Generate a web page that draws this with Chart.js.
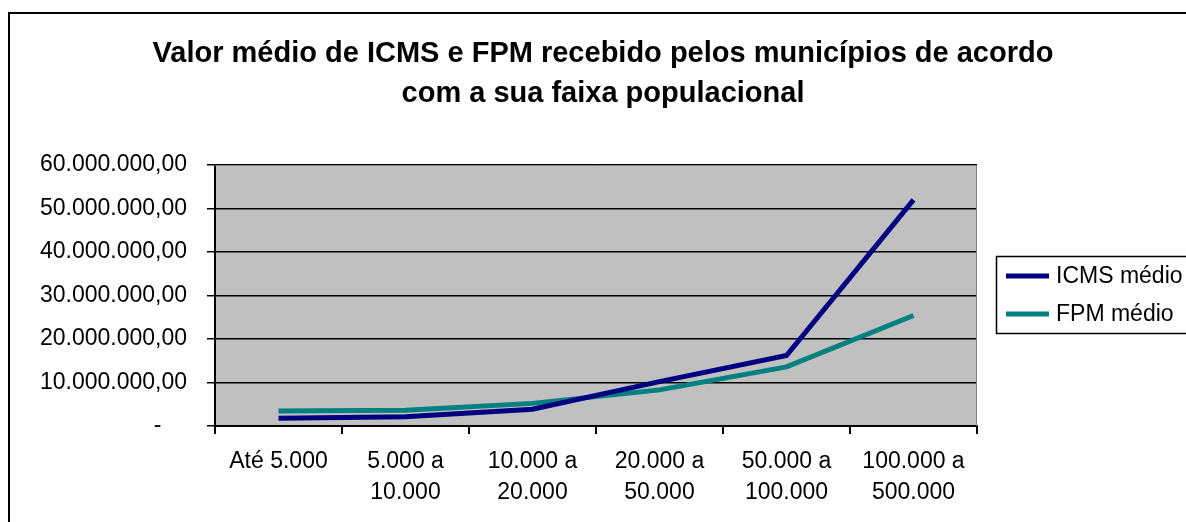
<!DOCTYPE html>
<html>
<head>
<meta charset="utf-8">
<script src="https://cdn.jsdelivr.net/npm/chart.js@4.4.1/dist/chart.umd.min.js"></script>
<style>
  html, body { margin: 0; padding: 0; background: #fff; }
  #wrap { width: 1186px; height: 522px; }
</style>
</head>
<body>
<div id="wrap"><canvas id="grafico" width="1186" height="522"></canvas></div>
<script>
// faixas populacionais
const faixas = [
    ['Até 5.000'],
    ['5.000 a', '10.000'],
    ['10.000 a', '20.000'],
    ['20.000 a', '50.000'],
    ['50.000 a', '100.000'],
    ['100.000 a', '500.000']
];

// valores (R$)
const icmsMedio = [1800000, 2100000, 3850000, 10200000, 16200000, 52000000];
const fpmMedio = [3450000, 3600000, 5200000, 8300000, 13600000, 25400000];

const eixoY = { min: 0, max: 60000000, passo: 10000000 };

const titulo = ['Valor médio de ICMS e FPM recebido pelos municípios de acordo',
                'com a sua faixa populacional'];

const fonte = 'Arial, "Liberation Sans", sans-serif';

// formato 60.000.000,00 ; zero vira "-"
function formataValor(v) {
    if (v === 0) return '-    ';
    const partes = Math.abs(v).toFixed(2).split('.');
    const inteiro = partes[0].replace(/\B(?=(\d{3})+(?!\d))/g, '.');
    return inteiro + ',' + partes[1];
}

// moldura externa, titulo centrado na pagina, fundo cinza e legenda em caixa
const molduraPlugin = {
    id: 'moldura',
    beforeDraw(chart) {
        const ctx = chart.ctx;
        const a = chart.chartArea;
        ctx.save();
        ctx.fillStyle = '#ffffff';
        ctx.fillRect(0, 0, chart.width, chart.height);
        ctx.strokeStyle = '#000000';
        ctx.lineWidth = 2;
        ctx.strokeRect(9, 13, chart.width + 20, chart.height + 20);

        ctx.fillStyle = '#c0c0c0';
        ctx.fillRect(a.left, a.top, a.right - a.left, a.bottom - a.top);

        ctx.fillStyle = '#000000';
        ctx.font = 'bold 29px ' + fonte;
        ctx.textAlign = 'center';
        ctx.textBaseline = 'alphabetic';
        titulo.forEach((linha, i) => {
            ctx.fillText(linha, 603, 62 + i * 40);
        });
        ctx.restore();
    },
    beforeDatasetsDraw(chart) {
        const a = chart.chartArea;
        const ctx = chart.ctx;
        ctx.save();
        ctx.strokeStyle = '#808080';
        ctx.lineWidth = 1;
        ctx.beginPath();
        ctx.moveTo(a.left, a.top + 0.5);
        ctx.lineTo(a.right - 0.5, a.top + 0.5);
        ctx.lineTo(a.right - 0.5, a.bottom);
        ctx.stroke();
        ctx.restore();
    },
    afterDraw(chart) {
        const ctx = chart.ctx;
        const x = 996, y = 256, h = 77;
        ctx.save();
        ctx.fillStyle = '#ffffff';
        ctx.fillRect(x, y, chart.width - x + 10, h);
        ctx.strokeStyle = '#000000';
        ctx.lineWidth = 1.5;
        ctx.strokeRect(x + 0.5, y + 0.5, chart.width - x + 10, h);
        ctx.font = '23px ' + fonte;
        ctx.textBaseline = 'middle';
        chart.data.datasets.forEach((ds, i) => {
            const ly = y + 20 + i * 38;
            ctx.strokeStyle = ds.borderColor;
            ctx.lineWidth = 5;
            ctx.beginPath();
            ctx.moveTo(1006, ly);
            ctx.lineTo(1049, ly);
            ctx.stroke();
            ctx.fillStyle = '#000000';
            ctx.fillText(ds.label, 1056, ly + 1);
        });
        ctx.restore();
    }
};

const ctx = document.getElementById('grafico').getContext('2d');
window.grafico = new Chart(ctx, {
    type: 'line',
    data: {
        labels: faixas,
        datasets: [
            {
                label: 'ICMS médio',
                data: icmsMedio,
                borderColor: '#000080',
                borderWidth: 5,
                pointRadius: 0,
                fill: false,
                tension: 0
            },
            {
                label: 'FPM médio',
                data: fpmMedio,
                borderColor: '#008080',
                borderWidth: 5,
                pointRadius: 0,
                fill: false,
                tension: 0
            }
        ]
    },
    plugins: [molduraPlugin],
    options: {
        responsive: false,
        animation: false,
        layout: { padding: { left: 20, right: 209, top: 165, bottom: 0 } },
        plugins: {
            legend: { display: false },
            tooltip: { enabled: false },
            title: { display: false }
        },
        scales: {
            x: {
                offset: true,
                grid: {
                    offset: true,
                    drawOnChartArea: false,
                    drawTicks: true,
                    tickLength: 8,
                    color: '#000000',
                    lineWidth: 2
                },
                border: { display: true, color: '#000000', width: 2 },
                ticks: {
                    color: '#000000',
                    font: { family: fonte, size: 23, lineHeight: 1.35 },
                    padding: 12,
                    maxRotation: 0,
                    autoSkip: false
                },
                afterFit(scale) { scale.height = 96; }
            },
            y: {
                min: eixoY.min,
                max: eixoY.max,
                grid: {
                    color: '#000000',
                    lineWidth: 1.5,
                    tickLength: 8
                },
                border: { display: true, color: '#000000', width: 2 },
                ticks: {
                    stepSize: eixoY.passo,
                    color: '#000000',
                    font: { family: fonte, size: 23 },
                    padding: 20,
                    callback: function(value) { return formataValor(value); }
                },
                afterFit(scale) { scale.width = 195; }
            }
        }
    }
});
</script>
</body>
</html>
